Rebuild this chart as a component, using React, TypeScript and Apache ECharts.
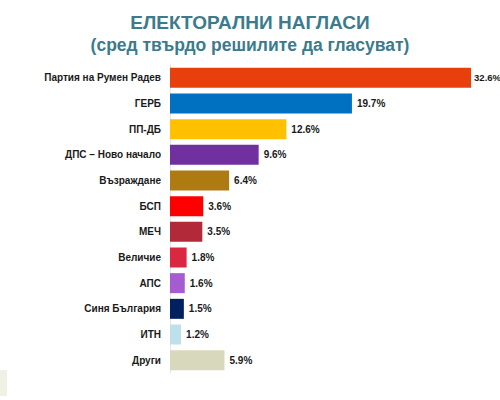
import React, { useEffect, useRef } from "react";
import * as echarts from "echarts";

const categories = [
  "Партия на Румен Радев",
  "ГЕРБ",
  "ПП-ДБ",
  "ДПС – Ново начало",
  "Възраждане",
  "БСП",
  "МЕЧ",
  "Величие",
  "АПС",
  "Синя България",
  "ИТН",
  "Други",
];
const values = [32.6, 19.7, 12.6, 9.6, 6.4, 3.6, 3.5, 1.8, 1.6, 1.5, 1.2, 5.9];
const colors = [
  "#e8400c",
  "#0070c0",
  "#ffc000",
  "#7030a0",
  "#ae7a12",
  "#ff0000",
  "#b22a3a",
  "#d9283f",
  "#a45cd0",
  "#002060",
  "#bde0ea",
  "#d8d8bc",
];
const titleText = "ЕЛЕКТОРАЛНИ НАГЛАСИ";
const subtitleText = "(сред твърдо решилите да гласуват)";

const FONT = "'Liberation Sans Narrow', 'Arial Narrow', 'Liberation Sans', Arial, sans-serif";

export default function App() {
  const ref = useRef<HTMLDivElement>(null);
  useEffect(() => {
    if (!ref.current) return;
    const chart = echarts.init(ref.current, null, { renderer: "svg" });
    chart.setOption({
      animation: false,
      backgroundColor: "#ffffff",
      title: [
        {
          text: titleText,
          left: 245,
          textAlign: "center",
          top: 8,
          textStyle: { color: "#3b7b8c", fontSize: 19, fontWeight: "bold", fontFamily: FONT },
        },
        {
          text: subtitleText,
          left: 245,
          textAlign: "center",
          top: 31,
          textStyle: { color: "#3b7b8c", fontSize: 17.5, fontWeight: "bold", fontFamily: FONT },
        },
      ],
      grid: { left: 170, right: 4, top: 65, bottom: 27, containLabel: false },
      xAxis: {
        type: "value",
        min: 0,
        max: 35.3,
        show: false,
      },
      yAxis: {
        type: "category",
        data: categories,
        inverse: true,
        axisLine: { show: true, lineStyle: { color: "#e4e4e4", width: 1 } },
        axisTick: { show: false },
        axisLabel: {
          color: "#1a1a1a",
          fontSize: 10,
          fontWeight: "bold",
          fontFamily: FONT,
          margin: 9,
        },
      },
      series: [
        {
          type: "bar",
          data: values.map((v, i) => ({
            value: v,
            itemStyle: { color: colors[i] },
            label: i === 0 ? { fontSize: 9.5, distance: 3 } : undefined,
          })),
          barWidth: 20,
          label: {
            show: true,
            position: "right",
            distance: 5,
            formatter: (p: any) => p.value.toFixed(1) + "%",
            color: "#1a1a1a",
            fontSize: 10,
            fontWeight: "bold",
            fontFamily: FONT,
          },
        },
      ],
      graphic: [
        {
          type: "rect",
          left: 0,
          top: 370,
          shape: { width: 7, height: 26 },
          style: { fill: "#eef1e4" },
        },
      ],
    });
    return () => chart.dispose();
  }, []);
  return (
    <div
      ref={ref}
      style={{ position: "absolute", left: 0, top: 0, width: 500, height: 400 }}
    />
  );
}
